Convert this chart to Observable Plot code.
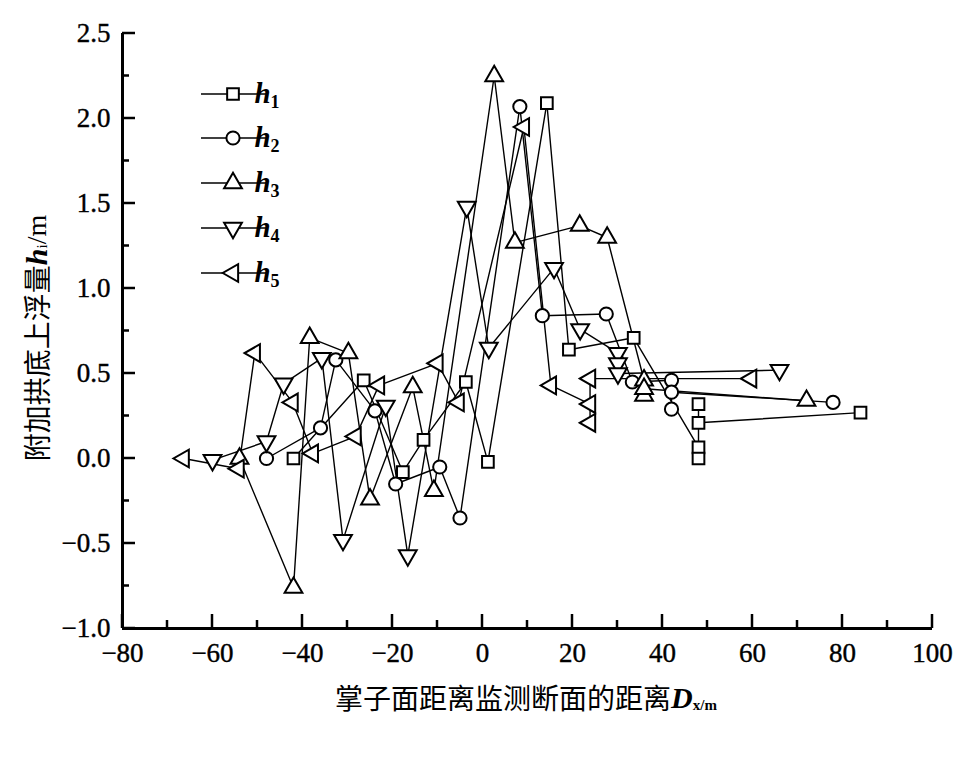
<!DOCTYPE html>
<html><head><meta charset="utf-8">
<script src="https://cdn.jsdelivr.net/npm/d3@7"></script>
<script src="https://cdn.jsdelivr.net/npm/@observablehq/plot@0.6"></script>
<style>body{margin:0;background:#fff;} #chart{width:963px;height:757px;}</style>
</head><body><div id="chart"></div>
<script>
// ---- data ----
const h1X = [-42, -26.4, -17.7, -13.1, -3.7, 1.2, 14.3, 19.2, 33.6, 48, 48, 48, 48, 84];
const h1Y = [0.0, 0.46, -0.08, 0.11, 0.45, -0.02, 2.09, 0.64, 0.71, 0.065, 0.0, 0.32, 0.21, 0.27];
const h2X = [-48, -36, -32.6, -23.9, -19.3, -9.5, -5, 8.3, 13.3, 27.5, 33.3, 42, 42, 42, 77.9];
const h2Y = [0.0, 0.18, 0.58, 0.28, -0.15, -0.05, -0.35, 2.07, 0.84, 0.85, 0.45, 0.46, 0.29, 0.39, 0.33];
const h3X = [-54, -42, -38.4, -29.8, -25, -15.5, -10.8, 2.6, 7.2, 21.6, 27.7, 35.9, 35.9, 35.9, 72];
const h3Y = [0.0, -0.76, 0.71, 0.62, -0.24, 0.42, -0.19, 2.25, 1.27, 1.37, 1.30, 0.46, 0.37, 0.41, 0.34];
const h4X = [-60, -48, -44.2, -35.7, -31, -21.5, -16.6, -3.5, 1.4, 15.9, 21.7, 30.1, 30.1, 30.1, 66];
const h4Y = [-0.01, 0.1, 0.44, 0.59, -0.48, 0.31, -0.57, 1.48, 0.65, 1.12, 0.76, 0.62, 0.56, 0.50, 0.52];
const h5X = [-66.4, -54.2, -50.6, -42.2, -37.7, -28.2, -23, -10, -5.3, 9.2, 15.2, 23.9, 23.9, 23.9, 59.7];
const h5Y = [0.0, -0.06, 0.62, 0.33, 0.03, 0.13, 0.43, 0.56, 0.33, 1.95, 0.43, 0.32, 0.21, 0.47, 0.47];
const seriesNames = ["1", "2", "3", "4", "5"];
const xTicks = [-80, -60, -40, -20, 0, 20, 40, 60, 80, 100];
const xMinor = [-70, -50, -30, -10, 10, 30, 50, 70, 90];
const yTicks = [-1.0, -0.5, 0.0, 0.5, 1.0, 1.5, 2.0, 2.5];
const yMinor = [-0.75, -0.25, 0.25, 0.75, 1.25, 1.75, 2.25];
const xLabelCN = "掌子面距离监测断面的距离";
const yLabelCN = "附加拱底上浮量";

// ---- symbols ----
const sqrt3 = Math.sqrt(3);
const triDown = {draw(ctx, size) {
  const y = -Math.sqrt(size / (sqrt3 * 3));
  ctx.moveTo(0, -y * 2); ctx.lineTo(-sqrt3 * y, y); ctx.lineTo(sqrt3 * y, y); ctx.closePath();
}};
const triLeft = {draw(ctx, size) {
  const y = -Math.sqrt(size / (sqrt3 * 3));
  ctx.moveTo(y * 2, 0); ctx.lineTo(-y, -sqrt3 * y); ctx.lineTo(-y, sqrt3 * y); ctx.closePath();
}};
const symbols = [d3.symbolSquare, d3.symbolCircle, d3.symbolTriangle, triDown, triLeft];
const plotSymbols = ["square", "circle", "triangle", triDown, triLeft];

const allX = [h1X, h2X, h3X, h4X, h5X];
const allY = [h1Y, h2Y, h3Y, h4Y, h5Y];
const series = allX.map((xs, i) => xs.map((x, j) => ({x, y: allY[i][j]})));

const fmt = d => (d < 0 ? "\u2212" : "") + Math.abs(d);
const fmtY = d => (d < 0 ? "\u2212" : "") + Math.abs(d).toFixed(1);

const R = 6.6;
const marks = [
  Plot.axisX({ticks: xTicks, tickSize: 0, tickPadding: 14, tickFormat: fmt, label: null}),
  Plot.axisY({ticks: yTicks, tickSize: 0, tickPadding: 12, tickFormat: fmtY, label: null}),
];
series.forEach(s => marks.push(Plot.line(s, {x: "x", y: "y", stroke: "black", strokeWidth: 1.4})));
series.forEach((s, i) => marks.push(Plot.dot(s, {x: "x", y: "y", symbol: plotSymbols[i], r: R, fill: "white", stroke: "black", strokeWidth: 2})));
marks.push(Plot.ruleX([-80], {strokeWidth: 3}));
marks.push(Plot.ruleY([-1], {strokeWidth: 3}));

const plot = Plot.plot({
  width: 963, height: 757,
  marginLeft: 122, marginRight: 31, marginTop: 33, marginBottom: 129,
  x: {domain: [-80, 100]},
  y: {domain: [-1, 2.5]},
  style: {fontFamily: "'Liberation Serif', serif", fontSize: "27px", color: "black", background: "white", overflow: "visible"},
  marks
});

const svg = d3.select(plot);
svg.selectAll('g[aria-label="x-axis tick label"] text, g[aria-label="y-axis tick label"] text')
  .attr("font-size", 27).style("font-size", "27px").attr("stroke", "black").attr("stroke-width", 0.4);

// inward ticks placed through the plot's own scales
const sx = plot.scale("x"), sy = plot.scale("y");
const x0 = sx.apply(-80), y0 = sy.apply(-1);
const tickG = svg.append("g").attr("stroke", "black").attr("stroke-width", 2.5);
xTicks.forEach(v => tickG.append("line").attr("x1", sx.apply(v)).attr("x2", sx.apply(v)).attr("y1", y0).attr("y2", y0 - 14));
xMinor.forEach(v => tickG.append("line").attr("x1", sx.apply(v)).attr("x2", sx.apply(v)).attr("y1", y0).attr("y2", y0 - 8));
yTicks.forEach(v => tickG.append("line").attr("y1", sy.apply(v)).attr("y2", sy.apply(v)).attr("x1", x0).attr("x2", x0 + 13));
yMinor.forEach(v => tickG.append("line").attr("y1", sy.apply(v)).attr("y2", sy.apply(v)).attr("x1", x0).attr("x2", x0 + 7));

// legend
const legY = [94, 138, 183, 228, 273];
seriesNames.forEach((n, i) => {
  const g = svg.append("g").attr("transform", `translate(0,${legY[i]})`);
  g.append("line").attr("x1", 201).attr("x2", 266).attr("y1", 0).attr("y2", 0).attr("stroke", "black").attr("stroke-width", 1.4);
  g.append("path").attr("transform", "translate(233,0)")
    .attr("d", d3.symbol(symbols[i], Math.PI * R * R)())
    .attr("fill", "white").attr("stroke", "black").attr("stroke-width", 2);
  const t = g.append("text").attr("x", 267).attr("y", 9)
    .attr("font-family", "'Liberation Serif', serif").style("font-size", "29px").attr("font-weight", "bold");
  t.append("tspan").attr("font-style", "italic").text("h");
  t.append("tspan").style("font-size", "18px").attr("dy", 5).text(n);
});
// x label
const xl = svg.append("text").attr("x", 526).attr("y", 697).attr("text-anchor", "middle")
  .attr("dominant-baseline", "central").style("font-size", "28px").attr("fill", "black");
xl.append("tspan").attr("font-family", "'Noto Sans CJK SC'").text(xLabelCN);
xl.append("tspan").attr("font-family", "'Liberation Serif', serif").attr("font-style", "italic").attr("font-weight", "bold").style("font-size", "30px").text("D");
xl.append("tspan").attr("font-family", "'Liberation Serif', serif").attr("font-weight", "bold").style("font-size", "15px").attr("dy", 8).text("x/m");
// y label
const yl = svg.append("text").attr("transform", "translate(36,338) rotate(-90)").attr("text-anchor", "middle")
  .attr("dominant-baseline", "central").style("font-size", "28px").attr("fill", "black");
yl.append("tspan").attr("font-family", "'Noto Sans CJK SC'").text(yLabelCN);
yl.append("tspan").attr("font-family", "'Liberation Serif', serif").attr("font-style", "italic").attr("font-weight", "bold").style("font-size", "30px").text("h");
yl.append("tspan").attr("font-family", "'Liberation Serif', serif").style("font-size", "15px").attr("dy", 6).text("i");
yl.append("tspan").attr("font-family", "'Liberation Serif', serif").attr("dy", -6).text("/m");

document.getElementById("chart").appendChild(plot);
</script>
</body></html>
